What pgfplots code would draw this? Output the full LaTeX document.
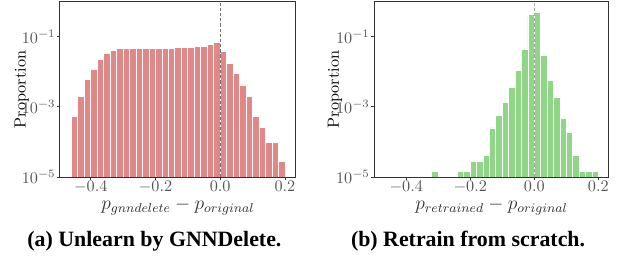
\documentclass[border=0pt]{standalone}
\usepackage{fontspec}
\usepackage{pgfplots}
\pgfplotsset{compat=1.18}
\newfontfamily\capfont{Liberation Serif}
\definecolor{barred}{RGB}{224,135,135}
\definecolor{bargreen}{RGB}{143,214,135}
\definecolor{framegray}{RGB}{51,51,51}
\definecolor{ticklab}{RGB}{85,85,85}
\begin{document}
\begin{tikzpicture}
\useasboundingbox (0,0) rectangle (384.4pt,161.0pt);
\begin{axis}[at={(37.0pt,51.8pt)}, anchor=south west,
  scale only axis, width=145.6pt, height=108pt,
  ymode=log, ymin=1e-5, ymax=0.98, log origin=infty,
  xmin=-0.495, xmax=0.234,
  axis line style={framegray, line width=0.6pt},
  tick style={framegray, line width=0.5pt}, tick align=outside, major tick length=2pt,
  xtick pos=bottom, ytick pos=left,
  ytick={1e-5,1e-3,1e-1}, minor tick num=0,
  xtick={-0.4,-0.2,0,0.2},
  xticklabel style={/pgf/number format/fixed, /pgf/number format/fixed zerofill, /pgf/number format/precision=1},
  tick label style={text=ticklab, inner sep=0.6pt},
  ylabel={Proportion}, xlabel={$p_{gnndelete}-p_{original}$},
  ylabel style={at={(axis description cs:-0.162,0.5)}, anchor=center},
  xlabel style={text=framegray, font=\large, at={(axis description cs:0.5,0)}, anchor=base, yshift=-20.3pt}]
\addplot[ybar, bar width=0.02, bar shift=0pt, fill=barred, draw=white, line width=0.5pt] coordinates {
(-0.45,5.4e-4) (-0.43,2.0e-3) (-0.41,6.1e-3) (-0.39,0.0119) (-0.37,0.0231)
(-0.35,0.0342) (-0.33,0.0417) (-0.31,0.0475) (-0.29,0.0475) (-0.27,0.0475)
(-0.25,0.0475) (-0.23,0.0475) (-0.21,0.0475) (-0.19,0.0475) (-0.17,0.0475)
(-0.15,0.0475) (-0.13,0.0508) (-0.11,0.0508) (-0.09,0.0508) (-0.07,0.0542)
(-0.05,0.0542) (-0.03,0.0592) (-0.01,0.0706) (0.01,0.039) (0.03,0.017)
(0.05,0.0088) (0.07,0.0042) (0.09,0.0020) (0.11,5.4e-4) (0.13,2.6e-4)
(0.15,9.8e-5) (0.17,9.8e-5) (0.19,2.8e-5)
};
\addplot[sharp plot, dash pattern=on 2pt off 1.2pt, line width=0.5pt, color=gray!90!black] coordinates {(0,1e-5) (0,0.98)};
\end{axis}
\begin{axis}[at={(230.9pt,51.8pt)}, anchor=south west,
  scale only axis, width=144.8pt, height=108pt,
  ymode=log, ymin=1e-5, ymax=0.98, log origin=infty,
  xmin=-0.5, xmax=0.233,
  axis line style={framegray, line width=0.6pt},
  tick style={framegray, line width=0.5pt}, tick align=outside, major tick length=2pt,
  xtick pos=bottom, ytick pos=left,
  ytick={1e-5,1e-3,1e-1}, minor tick num=0,
  xtick={-0.4,-0.2,0,0.2},
  xticklabel style={/pgf/number format/fixed, /pgf/number format/fixed zerofill, /pgf/number format/precision=1},
  tick label style={text=ticklab, inner sep=0.6pt},
  ylabel={Proportion}, xlabel={$p_{retrained}-p_{original}$},
  ylabel style={at={(axis description cs:-0.167,0.5)}, anchor=center},
  xlabel style={text=framegray, font=\large, at={(axis description cs:0.5,0)}, anchor=base, yshift=-20.3pt}]
\addplot[ybar, bar width=0.02, bar shift=0pt, fill=bargreen, draw=white, line width=0.5pt] coordinates {
(-0.31,1.45e-5) (-0.23,1.45e-5) (-0.21,1.45e-5) (-0.19,2.8e-5) (-0.17,2.8e-5)
(-0.15,4.2e-5) (-0.13,2.5e-4) (-0.11,5.8e-4) (-0.09,1.35e-3) (-0.07,3.6e-3)
(-0.05,0.0112) (-0.03,0.0445) (-0.01,0.426) (0.01,0.50) (0.03,0.030)
(0.05,0.0058) (0.07,0.0018) (0.09,4.7e-4) (0.11,1.9e-4) (0.13,4.2e-5)
(0.15,1.45e-5) (0.17,1.45e-5) (0.19,1.45e-5)
};
\addplot[sharp plot, dash pattern=on 2pt off 1.2pt, line width=0.8pt, color=gray!70] coordinates {(0,1e-5) (0,0.98)};
\end{axis}
\node[font=\capfont\bfseries\fontsize{13.5}{16}\selectfont] at (95.3pt,12.3pt) {(a) Unlearn by GNNDelete.};
\node[font=\capfont\bfseries\fontsize{13.5}{16}\selectfont] at (288.8pt,12.3pt) {(b) Retrain from scratch.};
\end{tikzpicture}
\end{document}
